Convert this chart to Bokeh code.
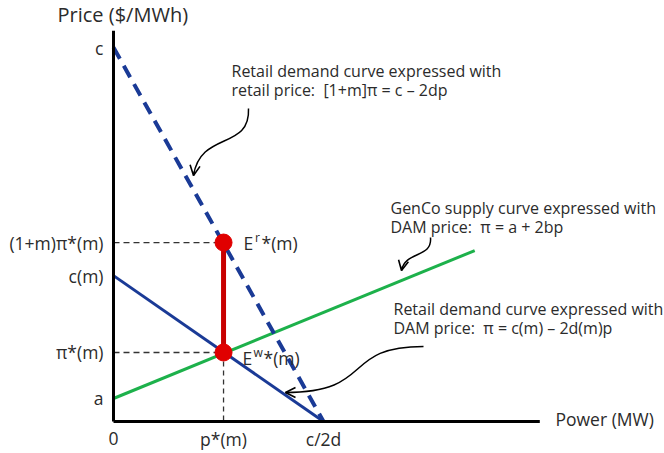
from bokeh.plotting import figure
from bokeh.models import Range1d, Arrow, OpenHead
from bokeh.core.properties import value
from bokeh.embed import file_html
from bokeh.resources import INLINE

# ---- data (model units) ----
c_int = 20.0            # retail demand intercept c
c_over_2d = 10.0        # quantity intercept c/2d
c_m = 7.8               # c(m)
a_int = 1.23            # a
p_star = 5.24           # p*(m)
pi_star = 3.69          # pi*(m)
retail_price = 9.57     # (1+m)pi*(m)
supply_x = [0.0, 17.2]
supply_y = [1.23, 9.14]
retail_x = [0.0, 10.0]
retail_y = [20.0, 0.0]
dam_x = [0.0, 10.0]
dam_y = [7.8, 0.0]
x_axis_end = 20.3
y_axis_end = 20.9

y_tick_vals = [c_int, retail_price, c_m, pi_star, a_int]
y_tick_labels = ["c", "(1+m)\u03c0*(m)", "c(m)", "\u03c0*(m)", "a"]
x_tick_vals = [0.0, p_star, c_over_2d]
x_tick_labels = ["0", "p*(m)", "c/2d"]

# ---- layout helpers (picture pixel -> data) ----
X0, SX, Y0, SY = 113.0, 21.0, 421.0, 18.7
def dx(px): return (px - X0) / SX
def dy(py): return (Y0 - py) / SY

W, H = 664, 453
p = figure(width=W, height=H, output_backend="svg", toolbar_location=None,
           x_range=Range1d(dx(0), dx(W)), y_range=Range1d(dy(H), dy(0)),
           x_axis_location=None, y_axis_location=None, min_border=0)
p.grid.visible = False
p.outline_line_color = None
p.background_fill_color = "white"

FONT = value("Open Sans")
TC = "#2b2b2b"
BLUE = "#1a3a96"
GREEN = "#1db14b"
NB = "\u00a0"

# guide lines
p.segment(x0=[0, 0], y0=[retail_price, pi_star], x1=[p_star, p_star], y1=[retail_price, pi_star],
          line_color="#333333", line_width=1.3, line_dash="6 4")
p.segment(x0=[p_star], y0=[pi_star], x1=[p_star], y1=[0],
          line_color="#333333", line_width=1.3, line_dash="5 4")

# curves
p.line(supply_x, supply_y, line_color=GREEN, line_width=3)
p.line(dam_x, dam_y, line_color=BLUE, line_width=3)
p.line(retail_x, retail_y, line_color=BLUE, line_width=4, line_dash="13 8")

# red markup
p.segment(x0=[p_star], y0=[pi_star], x1=[p_star], y1=[retail_price], line_color="#c80000", line_width=5)
p.scatter([p_star, p_star], [retail_price, pi_star], size=17, color="#e00000")

# axes
p.line([0, 0], [0, y_axis_end], line_color="black", line_width=3)
p.line([0, x_axis_end], [0, 0], line_color="black", line_width=3)

# tick labels
p.text(x=[dx(103)] * len(y_tick_vals), y=y_tick_vals, text=y_tick_labels, text_align="right",
       text_baseline="middle", text_font=FONT, text_font_size="17.5px", text_color=TC)
p.text(x=x_tick_vals, y=[dy(438)] * 3, text=x_tick_labels, text_align="center",
       text_baseline="middle", text_font=FONT, text_font_size="17.5px", text_color=TC)
p.text(x=[dx(57)], y=[dy(14)], text=["Price ($/MWh)"], text_align="left", text_baseline="middle",
       text_font=FONT, text_font_size="20px", text_color=TC)
p.text(x=[dx(555)], y=[dy(418)], text=["Power (MW)"], text_align="left", text_baseline="middle",
       text_font=FONT, text_font_size="17.5px", text_color=TC)

# point labels (E with superscript)
p.text(x=[dx(243), dx(242)], y=[dy(242), dy(357)], text=["E", "E"],
       text_align="left", text_baseline="middle", text_font=FONT, text_font_size="17.5px", text_color=TC)
p.text(x=[dx(254.5), dx(253)], y=[dy(237), dy(352)], text=["r", "w"],
       text_align="left", text_baseline="middle", text_font=FONT, text_font_size="12px", text_color=TC)
p.text(x=[dx(261), dx(263)], y=[dy(242), dy(357)], text=["*(m)", "*(m)"],
       text_align="left", text_baseline="middle", text_font=FONT, text_font_size="17.5px", text_color=TC)

# annotations
ann_x = [dx(231), dx(231), dx(390), dx(390), dx(393), dx(393)]
ann_y = [dy(70), dy(89), dy(207), dy(226), dy(308), dy(327)]
ann_t = ["Retail demand curve expressed with", "retail price:" + NB + NB + "[1+m]\u03c0 = c \u2013 2dp",
         "GenCo supply curve expressed with", "DAM price:" + NB + NB + "\u03c0 = a + 2bp",
         "Retail demand curve expressed with", "DAM price:" + NB + NB + "\u03c0 = c(m) \u2013 2d(m)p"]
p.text(x=ann_x, y=ann_y, text=ann_t, text_align="left", text_baseline="middle",
       text_font=FONT, text_font_size="16px", text_color=TC)

# curly arrows
curves = [
    ((248, 108), (250, 150), (200, 130), (193, 175)),
    ((430, 237), (432, 258), (405, 250), (401, 270)),
    ((423, 346), (340, 346), (375, 392), (285, 392)),
]
for (s, c0, c1, e) in curves:
    p.bezier(x0=[dx(s[0])], y0=[dy(s[1])], cx0=[dx(c0[0])], cy0=[dy(c0[1])],
             cx1=[dx(c1[0])], cy1=[dy(c1[1])], x1=[dx(e[0])], y1=[dy(e[1])],
             line_color="black", line_width=1.5)
    tx, ty = e[0] - c1[0], e[1] - c1[1]
    n = (tx * tx + ty * ty) ** 0.5
    sx, sy = e[0] - 4 * tx / n, e[1] - 4 * ty / n
    p.add_layout(Arrow(end=OpenHead(size=10, line_width=1.6, line_color="black"),
                       x_start=dx(sx), y_start=dy(sy), x_end=dx(e[0]), y_end=dy(e[1]),
                       line_width=1.5, line_color="black"))

open("out.html", "w").write(file_html(p, INLINE))
